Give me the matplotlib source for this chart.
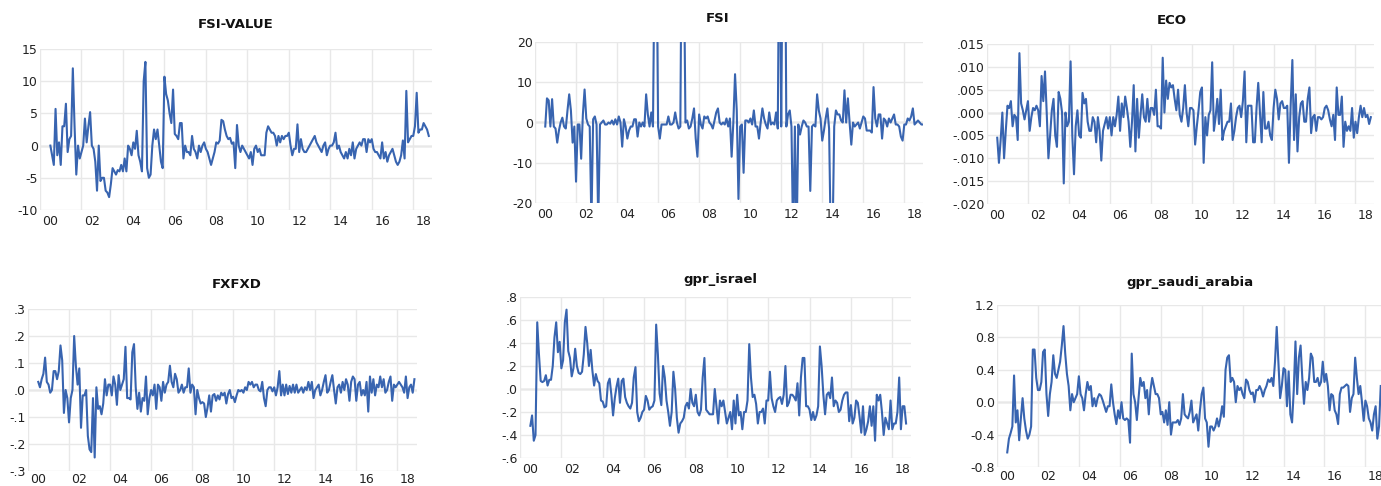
import numpy as np
import pandas as pd
import matplotlib
matplotlib.use("Agg")
import matplotlib.pyplot as plt

# ---------------- data (monthly, starting 2000-07) ----------------
START = "2000-07"
X_YEARS = [2000, 2002, 2004, 2006, 2008, 2010, 2012, 2014, 2016, 2018]
X_LABELS = ["00", "02", "04", "06", "08", "10", "12", "14", "16", "18"]

fsi_value = [
    0, -1.5, -3, 5.7, -1.5, 0.5, -3, 3, 3, 6.5,
    -1, 1, 1.5, 12, 3, -4.5, 0, -2, -1, 0,
    4.2, 0.5, 3, 5.2, 0, -0.5, -2.5, -7, 0, -5.5,
    -5, -5, -7, -7.3, -8, -6, -3.5, -4, -4.5, -3.8,
    -4, -3, -4, -2, -4, 0, -0.5, -1.5, 0.5, -0.5,
    2.3, -1.5, -2.5, -4, 10, 13, -3.5, -5, -4.5, 0,
    2.5, 1, 2.5, 0, -2.5, -3.5, 10.7, 8, 7, 5,
    3.5, 8.7, 1.8, 1.5, 1, 3.5, 3.5, -2, 0, -1,
    -1, -1.5, 1.5, -0.5, -1, -2, 0, -1, 0, 0.5,
    -0.5, -1, -2, -3, -2, -1, 0.5, 0.3, 0.8, 4,
    3.8, 2.5, 1.5, 1, 1.2, 0.3, 0.5, -3.5, 3.2, 0,
    -1, 0, -0.5, -1, -1.5, -2, -1, -3, -0.5, 0,
    -1, -0.5, -1.5, -1.5, -1.5, 2, 3, 2.5, 2, 2,
    1.5, 0, 1.5, 0.5, 1.5, 1, 1.5, 1.5, 2, 0,
    -1.5, -0.5, -0.5, 3.3, -1, 1, -0.5, -1, -1, -0.5,
    0, 0.5, 1, 1.5, 0.5, 0, -0.5, -1, 0, 0.5,
    -1.5, -0.5, 0, 0, 0.5, 2, -0.5, 0, -1, -1.5,
    -2, -1, -2, -0.5, -1.5, 0.5, -2, -0.5, 0, 0.5,
    0, 1, 1, -1, 1, 0.5, 1, -0.5, -1, -1,
    -1.5, -2, 0.5, -2, -1, -2.5, -1.5, -1, -0.5, -1.5,
    -2.5, -3, -2.5, -1.5, 0.8, -2, 8.5, 0.5, 1, 1.5,
    1.5, 3, 8.2, 2, 2.5, 2.5, 3.5, 3, 2.5, 1.5,
]

fsi = [
    -1, 6, 5.5, -1, 5.8, -1, -1.5, -5, -2, 0,
    1.2, -1, -1.5, 3, 7, 3, -5, -1, -14.7, -0.5,
    -0.5, -9, 2, 8.2, 1, -0.5, -1, -25, 0.8, 1.5,
    -0.5, -25, -0.5, 0, 0.5, -0.5, -0.5, 0, -0.3, 0.5,
    -0.5, 0.8, -0.5, 1.5, 0, -6,
    0.8, -1, -4, -2, -1, -1, 0.8, 0.8, -3.5, 0,
    -1, 0, -1, 7, 2, -1, 2.5, -1, 45, 50,
    -1, -4, -0.5, -0.5, -0.5, -0.5, 1.5, -0.5, -0.5, 0,
    2.5, 0, -1.5, -1, 60, 45, 0, 0.5, -1.5, -1,
    1, 3.5, -4, -8.5, 2, -0.5, -1.5, 1.5, 1, 1.5,
    0, -0.5, -1.5, 0.5,
    2.5, 3.5, 0, -0.5, 0, -0.5, 1, -1, 1, -8.5,
    0, 12, 3, -19, -1, -0.5, -12.5, 0.5, 0.5, 0,
    1, -0.5, 3, -1, -1, -4, 0, 3.5, 1, -0.5,
    -1.5, 2.5, -0.5, 0, -0.5, 2.5, -1.5,
    60, -1, 55, 70, -1, 2, 3, -1, -30, -1,
    -30, -0.5, -3, -1, 0.5, 0, -1,
    -1, -17, -1, -0.5, -1, 7, 3, 1, -4.5,
    -2, 1, 3.5, -1.5, -30, -30, -1, 3, 2,
    2, 0.5, 0, 8, 0, 6, 0, -5.5, 0, -1,
    -0.5, 0, -1.5, 0, 1.5, 1, -2, -2, -2, -2.5,
    8.8, 1, -1, 2, 2, -4, 1, 0.5, -1, 1,
    0, 1, 2, -0.5, -0.5, -1, -3.5, -4.5,
    -0.5, -0.5, 1, 0.5, 1.5, 3.5, -0.5, 0, 0.5, 0,
    -0.5, -0.5,
]

# ECO in thousandths
eco_thousandths = [
    -5.5, -11, -6, 0, -10, -4, 1.5, 1,
    2.5, -3, -0.5, -1, -6, 13, 2, 0.5, -1.5, 0.5,
    2.5, -4, -1, 1, 0.5, 1.5, 0.5, -3, 8,
    2.5, 9, 0, -10, -5, 0.5, 3, -5, -7.5, 4.5,
    3, 0, -15.5, 0, -3, -2, 11.2, -5, -13.5, -3,
    0.5, -5, -5.5, 4.3, 2, 3, -2, -4, -4,
    -1, -2, -6.5, -1, -4, -10.5, -4, -2.5, -1, -3.5,
    -1, -5, -1, -3, -0.5, 3.5, -4, 2, -1, 3.5,
    1, -2, -7.5, -2, 6, -8.5, 3, -5.5, -0.5,
    4, -1, -2, 3, -2, 1, 1, -0.5,
    5, -3, -3, -3.5, 12, 0, 7, 3, 6.5, 5.5,
    6, 3, 0.5, 5, -0.5, -2, 1, 6, 0, -3,
    1, 1, 0.5, -7, -3, 0.5, 4.5, 5.5, -11, -1,
    -5, -0.5, 0.5, 11, -4, -1, 3, -2.5, 5, -6,
    -4, -3, -2, -2, 2, -6, -4, -1, 1,
    1.5, -1, 2.5, 9, -6.5, 1.5, 1.5, 1.5, -6.5, -6.5,
    1, 6.5, 0, -6.5, 4.5, -3.5, -3.5, -2, -5, -6,
    1, 5, 3, -1.5, 2, 2.5, 1, 1,
    1.5, -11, 1.5, 11.5, -6, 4, -8.5, -1, 2, 2.5,
    -2, -2, 3, 5.5, -4.5, -1, -0.5, -4, -1, -1,
    -1.5, -1, 1, 1.5, 0.5, -1.5, -3, -0.5, -6,
    5.5, -0.5, -0.5, 3.5, -7.5, -2, -4, -3, -4, 1,
    -5.5, -2, -4.5, -1, 1.5, -1, 1, -1,
    -0.5, -2.5, -1,
]
eco = [v / 1000.0 for v in eco_thousandths]

fxfxd = [
    .03, .01, .04, .06, .12, .03, .02, -.01, 0, .07,
    .07, .04, .07, .165, .11, -.085, 0, -.03, -.12,
    -.03, 0, .2, .09, .02, .08, -.14, -.02, -.02, 0,
    -.17, -.22, -.23, -.03, -.25, .01, -.07, -.06, -.09, -.05,
    .04, -.02, .02, .02, -.02, .05, .02, -.055, .055,
    0, .02, .04, .16, -.03, -.03, -.035, .14, .17, .01,
    -.07, -.01, -.08, -.03, -.04, .05, -.09, -.03,
    0, -.02, .02, -.07, .02, .01, -.04, .03, -.01, .02,
    .03, .09, .03, .01, .06, .04, -.01, 0, .02, -.01,
    .01, .01, .08, -.01, .02, .01, -.09, 0, -.03, -.05,
    -.045, -.05, -.1, -.065, -.02, -.08, -.02, -.015, -.04, -.02,
    -.035, -.01, -.02, -.01, -.05, -.015, 0, -.03, -.025, -.045,
    -.02, 0, -.005, 0,
    -.01, .01, 0, .03, .02, .03, .01, .02, .02,
    0, -.005, .03, -.03, -.06, 0, .01, .01, -.005,
    .01, -.02, .01, .07, -.02, .02, -.02, .02, -.015, .015,
    -.01, .02, -.01, .02, -.01, 0, .01, -.01, .01,
    0, .03, 0, .03, -.03, 0, .01, .02, -.02,
    0, .03, .055, -.01, 0, .03, .055, 0, -.05, .01,
    .02, -.01, .03, 0, .04, .02, -.04, .03, .05, .04,
    -.04, .02, .03, -.02, 0, -.02, .03, -.08, .05, -.01,
    .04, -.02, .02, .01, .05, .01, .04, -.01, 0, .03,
    .05, -.04, .02, .01, .02, .03, .02, .01, -.01,
    .05, -.03, .01, .02, -.01, .04,
]

gpr_israel = [
    -.32, -.23, -.45, -.4, .58, .3, .07, .06, .07,
    .12, .03, .08, .08, .2, .45, .58, .32,
    .41, .18, .25, .58, .69, .33, .27, .11, .18, .35,
    .2, .14, .13, .15, .3, .54, .4, .2, .34, .16,
    .03, .13, .07, .05, -.1, -.11, -.16, -.15, .05, .09,
    -.05, -.23, -.08, .02, .09, -.12, .07, .09,
    -.07, -.12, -.15, -.17, -.12, .1, .19, -.2, -.28, -.25,
    -.2, -.18, -.06, -.1, -.18, -.16, -.15, -.1, .56, .3,
    -.04, -.14, .2, .1, -.1, -.2, -.32, -.2, .15, 0,
    -.25, -.38, -.3, -.28, -.25, -.15, -.12, -.17, 0, -.12,
    -.15, -.05, -.2, -.23, -.18, .1, .27, -.18,
    -.2, -.22,
    -.22, -.22, 0, -.15, -.3, -.1, -.15, -.1, -.2,
    -.3, -.25, -.2, -.35, -.1, -.3, -.05, -.23, -.2,
    -.35, -.2, -.2, -.1, .39, .1, -.07, -.05, -.13, -.3,
    -.2, -.2, -.17, -.3, -.1, -.1, .15, -.08, -.15, -.2,
    -.1, -.08, -.07, -.13, -.05, .2, -.15, -.12, -.05,
    -.05, -.07, -.1, .05, -.23, .1, .27, .27, -.15,
    -.15, -.18, -.27, -.2, -.27, -.23, -.15, .37, .2, -.05,
    -.22, -.05, -.03, -.08, .1, -.15, -.1, -.12, -.2, -.18,
    -.1, -.05, -.03, -.03, -.28, -.14, -.3, -.25, -.1,
    -.12, -.24, -.38, -.15, -.4, -.35, -.28, -.15, -.32, -.15,
    -.45, -.05, -.1, -.05, -.2, -.4, -.25, -.3, -.35, -.1,
    -.35, -.3, -.3, -.2, .1, -.35, -.15, -.15, -.3,
]

gpr_saudi_arabia = [
    -.62, -.45, -.38, -.3, .33, -.25, -.1, -.47, -.2, .05,
    -.2, -.35, -.45, -.4, -.3, .65, .65, .3, .15,
    .15, .25, .62, .65, .1, -.17, .1, .25, .58, .35,
    .3, .4, .5, .7, .94, .6, .35, .2, -.1, .1,
    0, .05, .1, .32, .1, .05, -.1, .1, .25, .15,
    .2, -.05, .05, -.05, .05, .1, .08, .02,
    -.05, -.12, -.05, -.05, .22, 0, -.15, -.27, -.1, -.2,
    0, -.2, -.22, -.2, -.22, -.5, .6, .1, 0, -.22,
    .05, .3, .2, .25, .05, .15, -.15, .15, .3,
    .2, .1, .1, .05, -.15, -.12, -.25, -.1, -.28, 0,
    -.4, -.25, -.25,
    -.25, -.22, -.28, -.2, .1, -.15, -.18, -.2, -.12,
    .02, -.25, -.2, -.15, -.35, -.1, .1, .18, -.2, -.25,
    -.55, -.3, -.3, -.35, -.3, -.2, -.3, -.2, -.05, -.18,
    .4, .55, .58, .25, .3, .25, 0, .2, .15, .18,
    .1, .05, .28, .25, .15, .1, .12, 0, .15,
    .15, .2, .15, .07, .15, .2, .28, .25, .3,
    .2, .5, .93, .5, .05, .2, .42, .4, -.05, .38,
    -.15, -.25, .15, .75, .1, .55, .7, .3, -.02, .25,
    .15, .3, .6, .55, .25, .25, .3, .2,
    .25, .5, .25, .35, .2, -.1, .1, .08, -.1, -.15,
    -.27, .1, .18, .18, .2, .22, .2, -.12, .05, .1,
    .55, .3, .1, .2, 0, -.23, .02, -.05, -.2, -.25,
    -.35, -.15, -.05, -.45, -.3, .2,
]

# y-axis ticks and labels
fsi_value_yticks = [-10, -5, 0, 5, 10, 15]
fsi_value_ylabels = ["-10", "-5", "0", "5", "10", "15"]
fsi_yticks = [-20, -10, 0, 10, 20]
fsi_ylabels = ["-20", "-10", "0", "10", "20"]
eco_yticks = [-0.020, -0.015, -0.010, -0.005, 0.0, 0.005, 0.010, 0.015]
eco_ylabels = ["-.020", "-.015", "-.010", "-.005", ".000", ".005", ".010", ".015"]
fxfxd_yticks = [-0.3, -0.2, -0.1, 0.0, 0.1, 0.2, 0.3]
fxfxd_ylabels = ["-.3", "-.2", "-.1", ".0", ".1", ".2", ".3"]
israel_yticks = [-0.6, -0.4, -0.2, 0.0, 0.2, 0.4, 0.6, 0.8]
israel_ylabels = ["-.6", "-.4", "-.2", ".0", ".2", ".4", ".6", ".8"]
saudi_yticks = [-0.8, -0.4, 0.0, 0.4, 0.8, 1.2]
saudi_ylabels = ["-0.8", "-0.4", "0.0", "0.4", "0.8", "1.2"]

# ---------------- drawing ----------------
W, H = 1381, 486
BLUE = "#3864b0"
GRID = "#e8e8e8"
ZERO = "#b8b8b8"
FONT = "DejaVu Sans"

fig = plt.figure(figsize=(W / 100, H / 100), dpi=100)
fig.patch.set_facecolor("white")


def panel(values, title, box, x0, pxyr, ylim, yticks, ylabels, title_xy, xpad=3.5):
    l, t, r, b = box
    ax = fig.add_axes([l / W, 1 - b / H, (r - l) / W, (b - t) / H])
    dates = pd.date_range(START, periods=len(values), freq="MS")
    x = dates.year + (dates.month - 1) / 12.0
    ax.plot(x, values, color=BLUE, lw=1.5, zorder=3, solid_joinstyle="round")
    ax.set_xlim(2000 + (l - x0) / pxyr, 2000 + (r - x0) / pxyr)
    ax.set_ylim(*ylim)
    yrs = np.array(X_YEARS, dtype=float)
    ax.set_xticks(yrs)
    ax.set_xticklabels([""] * len(yrs))
    ax.set_xticks(yrs + 0.5, minor=True)
    ax.set_xticklabels(X_LABELS, minor=True, fontsize=9, family=FONT, color="#222222")
    ax.set_yticks(yticks)
    ax.set_yticklabels(ylabels, fontsize=9, family=FONT, color="#222222")
    ax.tick_params(which="both", length=0)
    ax.tick_params(axis="x", which="minor", pad=xpad)
    ax.tick_params(axis="y", pad=1.5)
    ax.grid(True, which="major", color=GRID, lw=1.0, zorder=0)
    ax.axhline(0, color=ZERO, lw=1.0, zorder=1)
    for s in ax.spines.values():
        s.set_visible(False)
    ax.set_facecolor("white")
    fig.text(title_xy[0] / W, 1 - title_xy[1] / H, title, ha="center", va="center",
             fontsize=9.5, fontweight="bold", family=FONT, color="#111111")
    return ax


panel(fsi_value, "FSI-VALUE", (40, 49, 432, 210), 35, 21.0, (-10, 15),
      fsi_value_yticks, fsi_value_ylabels, (236, 25))
panel(fsi, "FSI", (535, 42, 923, 203), 527, 20.94, (-20, 20),
      fsi_yticks, fsi_ylabels, (718, 18))
panel(eco, "ECO", (987, 44, 1374, 204), 977, 21.0, (-0.020, 0.015),
      eco_yticks, eco_ylabels, (1172, 20))
panel(fxfxd, "FXFXD", (28, 309, 417, 471), 20, 20.94, (-0.3, 0.3),
      fxfxd_yticks, fxfxd_ylabels, (237, 284), xpad=1.5)
panel(gpr_israel, "gpr_israel", (520, 297, 911, 458), 514, 21.0, (-0.6, 0.8),
      israel_yticks, israel_ylabels, (720, 279))
panel(gpr_saudi_arabia, "gpr_saudi_arabia", (997, 305, 1386, 467), 988, 20.94, (-0.8, 1.2),
      saudi_yticks, saudi_ylabels, (1190, 282), xpad=2.5)

fig.savefig("out.png", dpi=100, facecolor="white")
